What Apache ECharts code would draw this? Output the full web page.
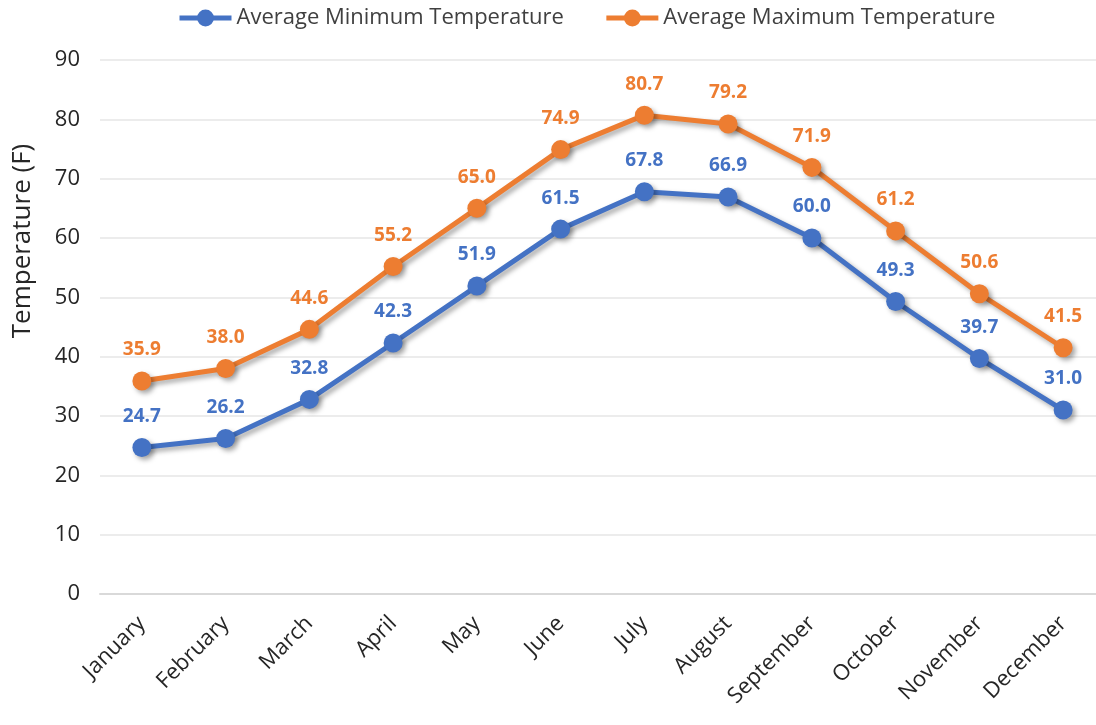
<!DOCTYPE html>
<html>
<head>
<meta charset="utf-8">
<script src="https://cdn.jsdelivr.net/npm/echarts@6/dist/echarts.min.js"></script>
<style>
  html,body{margin:0;padding:0;background:#fff;}
  #chart{width:1096px;height:725px;}
</style>
</head>
<body>
<div id="chart"></div>
<script>
// 月份
var months=["January","February","March","April","May","June","July","August","September","October","November","December"];
// 平均最低气温
var minTemps=[24.7,26.2,32.8,42.3,51.9,61.5,67.8,66.9,60.0,49.3,39.7,31.0];
// 平均最高气温
var maxTemps=[35.9,38.0,44.6,55.2,65.0,74.9,80.7,79.2,71.9,61.2,50.6,41.5];
// y轴刻度
var yMin=0, yMax=90, yStep=10;

var fontName='"Open Sans", sans-serif';

// 生成一条折线
var makeSeries=function(name,data,color){
  return {
    name:name,
    type:'line',
    data:data,
    symbol:'circle',
    symbolSize:19,
    lineStyle:{
      width:5,
      color:color,
      shadowColor:'rgba(0,0,0,0.35)',
      shadowBlur:5,
      shadowOffsetX:3,
      shadowOffsetY:3
    },
    itemStyle:{
      color:color,
      shadowColor:'rgba(0,0,0,0.35)',
      shadowBlur:5,
      shadowOffsetX:3,
      shadowOffsetY:3
    },
    label:{
      show:true,
      position:'top',
      distance:12,
      color:color,
      fontFamily:fontName,
      fontWeight:'bold',
      fontSize:19,
      formatter:function(p){return p.value.toFixed(1);}
    }
  };
};

var chart=echarts.init(document.getElementById("chart"));
chart.setOption({
  animation:false,
  legend:{
    top:2,
    left:172,
    itemWidth:52,
    itemHeight:21,
    itemGap:40,
    lineStyle:{width:5,shadowBlur:0,shadowOffsetX:0,shadowOffsetY:0},
    itemStyle:{shadowBlur:0,shadowOffsetX:0,shadowOffsetY:0},
    textStyle:{color:'#404040',fontSize:22,fontFamily:fontName},
    data:['Average Minimum Temperature','Average Maximum Temperature']
  },
  grid:{
    top:60,
    bottom:131,
    left:100,
    right:-9,
    outerBoundsMode:'none'
  },
  xAxis:{
    type:'category',
    data:months,
    boundaryGap:true,
    axisLine:{show:true,lineStyle:{color:'#d9d9d9',width:2}},
    axisTick:{show:false},
    axisLabel:{
      interval:0,
      rotate:45,
      margin:26,
      color:'#262626',
      fontSize:22,
      fontFamily:fontName
    }
  },
  yAxis:{
    type:'value',
    min:yMin,
    max:yMax,
    interval:yStep,
    name:'Temperature (F)',
    nameLocation:'middle',
    nameGap:64,
    nameTextStyle:{color:'#262626',fontSize:26,fontFamily:fontName,padding:[0,0,0,172]},
    axisLine:{show:false},
    axisTick:{show:false},
    axisLabel:{margin:20,color:'#262626',fontSize:22,fontFamily:fontName},
    splitLine:{lineStyle:{color:'#e6e6e6',width:1.5}}
  },
  series:[
    makeSeries('Average Minimum Temperature',minTemps,'#4472C4'),
    makeSeries('Average Maximum Temperature',maxTemps,'#ED7D31')
  ]
});
</script>
</body>
</html>
